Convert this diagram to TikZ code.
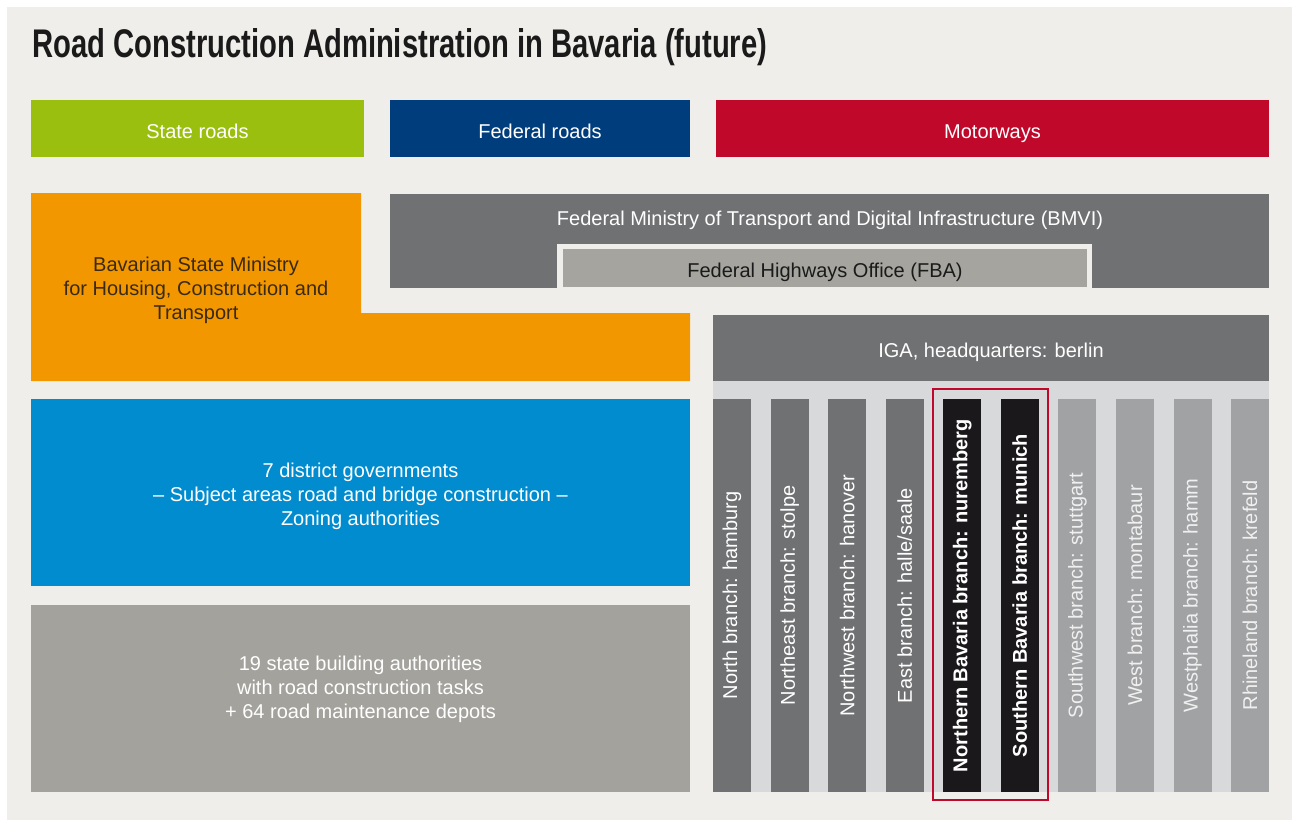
\documentclass[tikz,border=0pt]{standalone}
\usepackage{fontspec}
\setmainfont{Liberation Sans}
\definecolor{bgc}{HTML}{EFEEEA}
\definecolor{cgreen}{HTML}{9BBF0F}
\definecolor{cdblue}{HTML}{003D7C}
\definecolor{cred}{HTML}{C0092A}
\definecolor{corange}{HTML}{F29700}
\definecolor{corangetext}{HTML}{3A2A10}
\definecolor{cgreyd}{HTML}{707173}
\definecolor{cgreyfba}{HTML}{A5A49F}
\definecolor{cblue}{HTML}{008CCE}
\definecolor{cgreyb}{HTML}{A3A29D}
\definecolor{cband}{HTML}{D8D9DB}
\definecolor{cgreym}{HTML}{A1A2A4}
\definecolor{cblack}{HTML}{1B181C}
\definecolor{ctitle}{HTML}{1A1A1A}
\definecolor{cmtext}{HTML}{F0F0F0}
\tikzset{
  box/.style={inner sep=0pt, outer sep=0pt, anchor=center, align=center,
    text height=19pt, text depth=0pt,
    font=\fontsize{20}{24}\selectfont},
  txt/.style={inner sep=0pt, outer sep=0pt, anchor=center, align=center,
    font=\fontsize{20}{24}\selectfont},
  colbox/.style={inner sep=0pt, outer sep=0pt, anchor=center, rotate=90,
    minimum width=393pt, minimum height=38pt, font=\fontsize{20}{24}\selectfont},
}
\begin{document}
\begin{tikzpicture}[x=1pt,y=-1pt]
\useasboundingbox (0,0) rectangle (1293,820);
\fill[white] (0,0) rectangle (1293,820);
\fill[bgc] (7,7) rectangle (1292,820);
% title
\node[anchor=base west, inner sep=0pt, text=ctitle] (title) at (32,57)
  {\resizebox{735pt}{\height}{\fontsize{40}{48}\selectfont\bfseries Road Construction Administration in Bavaria (future)}};
% top row
\node[box, fill=cgreen, text=white, minimum width=333pt, minimum height=57pt] (state) at (197.5,128.5) {State roads};
\node[box, fill=cdblue, text=white, minimum width=300pt, minimum height=57pt] (federal) at (540,128.5) {Federal roads};
\node[box, fill=cred, text=white, minimum width=553pt, minimum height=57pt] (motor) at (992.5,128.5) {Motorways};
% orange L
\fill[corange] (31,193) -| (361,313) -| (690,381) -| cycle;
\node[txt, text=corangetext] (bsm) at (196,290) {Bavarian State Ministry\\for Housing, Construction and\\Transport};
% BMVI
\node[box, fill=cgreyd, minimum width=879pt, minimum height=94pt] (bmvi) at (829.5,241) {};
\node[txt, text=white] (bmvit) at (830,220) {Federal Ministry of Transport and Digital Infrastructure (BMVI)};
\node[box, fill=bgc, minimum width=535pt, minimum height=44pt] (fbaframe) at (824.5,266) {};
\node[box, fill=cgreyfba, text=ctitle, minimum width=524pt, minimum height=38pt] (fba) at (825,268) {Federal Highways Office (FBA)};
% IGA
\node[box, fill=cgreyd, text=white, minimum width=556pt, minimum height=66pt] (iga) at (991,348) {IGA, headquarters: berlin};
\node[box, fill=cband, minimum width=556pt, minimum height=411pt] (band) at (991,586.5) {};
% blue
\node[box, fill=cblue, text=white, minimum width=659pt, minimum height=187pt] (district) at (360.5,492.5) {};
\node[txt, text=white] (districtt) at (360.5,496) {7 district governments\\\textendash{} Subject areas road and bridge construction \textendash\\Zoning authorities};
% grey big
\node[box, fill=cgreyb, minimum width=659pt, minimum height=187pt] (sba) at (360.5,698.5) {};
\node[txt, text=white] (sbat) at (360.5,689) {19 state building authorities\\with road construction tasks\\+ 64 road maintenance depots};
% columns
\node[colbox, fill=cgreyd, text=white] (c1) at (732.0,595.5) {North branch: hamburg};
\node[colbox, fill=cgreyd, text=white] (c2) at (789.6,595.5) {Northeast branch: stolpe};
\node[colbox, fill=cgreyd, text=white] (c3) at (847.1,595.5) {Northwest branch: hanover};
\node[colbox, fill=cgreyd, text=white] (c4) at (904.7,595.5) {East branch: halle/saale};
\node[colbox, fill=cblack, text=white, font=\fontsize{20}{24}\selectfont\bfseries] (c5) at (962.2,595.5) {Northern Bavaria branch: nuremberg};
\node[colbox, fill=cblack, text=white, font=\fontsize{20}{24}\selectfont\bfseries] (c6) at (1019.8,595.5) {Southern Bavaria branch: munich};
\node[colbox, fill=cgreym, text=cmtext] (c7) at (1077.4,595.5) {Southwest branch: stuttgart};
\node[colbox, fill=cgreym, text=cmtext] (c8) at (1134.9,595.5) {West branch: montabaur};
\node[colbox, fill=cgreym, text=cmtext] (c9) at (1192.5,595.5) {Westphalia branch: hamm};
\node[colbox, fill=cgreym, text=cmtext] (c10) at (1250.0,595.5) {Rhineland branch: krefeld};
% red outline
\draw[cred, line width=2.5pt] (933,389) rectangle (1048,800);
\end{tikzpicture}
\end{document}
